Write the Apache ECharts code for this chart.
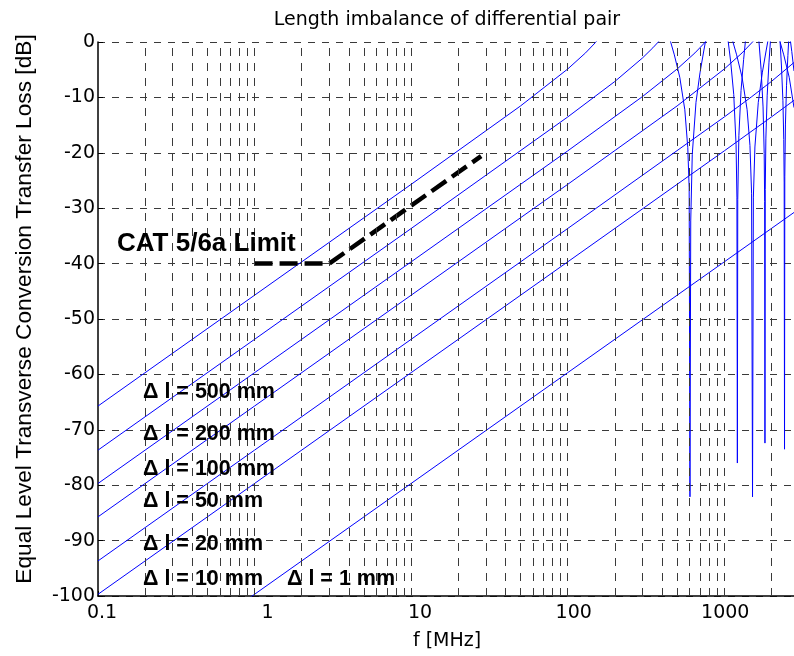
<!DOCTYPE html>
<html><head><meta charset="utf-8">
<script src="https://cdn.jsdelivr.net/npm/echarts@6/dist/echarts.min.js"></script>
<style>html,body{margin:0;padding:0;background:#fff}#c{width:794px;height:656px}</style>
</head><body><div id="c"></div>
<script>
// ---- data: [f in MHz, loss in dB] ----
const dl500 = [[0.1,-65.71],[1,-45.71],[10,-25.70],[50,-11.54],[100,-4.88],[130,-1.97],[150,-0.14],[160,0.76],[250,11.1],[303,30],[380,7.5],[440,1.34],
  [455,-0.03],[480,-2.32],[520,-6.37],[560,-12.23],[585,-19.09],[597,-26.32],[604,-82.1],[611,-32.3],[625,-20.27],[660,-10.89],[700,-5.57],[740,-1.62],[760,0.19],
  [800,3.9],[910,30],[1000,5.9],[1040,1.9],[1061,0],[1100,-3.60],[1150,-9.46],[1190,-18.57],[1205,-28.0],[1213,-76.0],[1220,-28.4],[1240,-16.92],[1280,-8.78],[1330,-3.14],[1364,0],[1390,2.33],
  [1516,30],[1640,2.5],[1667,0],[1720,-4.99],[1770,-11.72],[1800,-20.11],[1812,-28.8],[1820,-72.4],[1828,-26.6],[1845,-17.35],[1880,-9.71],[1930,-3.76],[1971,0],[2000,2.7],
  [2120,30],[2250,2.16],[2274,0],[2320,-4.33],[2370,-10.61],[2400,-17.59],[2415,-25.44],[2427,-73.5],[2437,-24.34],[2460,-14.81],[2500,-7.80],[2550,-2.46],[2577,0],[2620,4.0],[2790,9.6]];
const dl200 = [[0.1,-73.67],[1,-53.67],[10,-33.67],[100,-13.54],[200,-7.13],[300,-2.90],[350,-1.05],[379,0],[400,0.76],[600,9.3],[758,30],[950,7.5],[1100,1.34],
  [1137,0],[1200,-2.32],[1300,-6.37],[1400,-12.23],[1460,-18.68],[1495,-27.29],[1516,-82.1],[1535,-28.0],[1570,-18.95],[1650,-10.89],[1750,-5.57],[1850,-1.62],[1895,0],[1950,2.0],
  [2274,30],[2600,1.9],[2653,0],[2700,-1.71],[2790,-5.23]];
const dl100 = [[0.1,-79.69],[1,-59.69],[10,-39.69],[100,-19.66],[300,-9.86],[500,-4.88],[650,-1.97],[758,0],[800,0.76],[1000,4.6],[1516,30],[1900,7.5],[2200,1.34],
  [2274,0],[2400,-2.32],[2600,-6.37],[2790,-11.84]];
const dl50 = [[0.1,-85.71],[1,-65.71],[10,-45.71],[100,-25.70],[500,-11.54],[1000,-4.88],[1300,-1.97],[1516,0],[1600,0.76],[2000,4.6],[2790,18]];
const dl20 = [[0.1,-93.67],[1,-73.67],[10,-53.67],[100,-33.67],[1000,-13.54],[1500,-9.86],[2000,-7.13],[2790,-3.70]];
const dl10 = [[0.1,-99.69],[1,-79.69],[10,-59.69],[100,-39.69],[1000,-19.66],[2000,-13.54],[2790,-10.53]];
const dl1 = [[0.1,-119.69],[1,-99.69],[10,-79.69],[100,-59.69],[1000,-39.69],[2790,-30.77]];
const catLimit = [[1,-40],[3,-40],[28,-20.6]];
const curveLabels = ['Δ l = 500 mm','Δ l = 200 mm','Δ l = 100 mm','Δ l = 50 mm','Δ l = 20 mm','Δ l = 10 mm','Δ l = 1 mm'];
const xTickLabels = ['0.1','1','10','100','1000'];
const xGridValues = [0.2,0.3,0.4,0.5,0.6,0.7,0.8,0.9,1,2,3,4,5,6,7,8,9,10,20,30,40,50,60,70,80,90,100,200,300,400,500,600,700,800,900,1000,2000];
const xMin = 0.1, xMax = 2790, yMin = -100, yMax = 0, yStep = 10;

const chart = echarts.init(document.getElementById('c'), null, {renderer:'canvas'});
const blue = '#0000ff';
function curve(name, data){
  return {name, type:'line', data, showSymbol:false, symbol:'none', clip:true, z:3,
    lineStyle:{color:blue, width:1}, animation:false, silent:true};
}
// label shifts as seen in the reference rendering (px to the right of the tick)
const xLabelShift = [4, 13, 9, 6, 1];
const rich = {};
xTickLabels.forEach((t,i)=>{ rich['s'+i] = {fontFamily:'DejaVu Sans', fontSize:19, color:'#000', padding:[0,0,0,2*xLabelShift[i]]}; });

const labelPos = [[143,392],[143,434],[143,469],[143,501],[143,544],[143,579],[287,579]];
const graphics = [
  {type:'text', x:447, y:20, style:{text:'Length imbalance of differential pair', fontFamily:'DejaVu Sans', fontSize:19, fill:'#000', align:'center', verticalAlign:'middle'}},
  {type:'text', x:25, y:309, rotation:Math.PI/2, style:{text:'Equal Level Transverse Conversion Transfer Loss [dB]', fontFamily:'Liberation Sans', fontSize:22.7, fill:'#000', align:'center', verticalAlign:'middle'}},
  {type:'text', x:447, y:641, style:{text:'f [MHz]', fontFamily:'DejaVu Sans', fontSize:19, fill:'#000', align:'center', verticalAlign:'middle'}},
  {type:'text', x:117, y:244, z:100, style:{text:'CAT 5/6a Limit', fontFamily:'Liberation Sans', fontWeight:'bold', fontSize:26, fill:'#000', align:'left', verticalAlign:'middle'}}
];
curveLabels.forEach((t,i)=>{
  graphics.push({type:'text', x:labelPos[i][0], y:labelPos[i][1], z:100, style:{text:t, fontFamily:'Liberation Sans', fontWeight:'bold', fontSize:21.5, fill:'#000', align:'left', verticalAlign:'middle'}});
});

chart.setOption({
  animation:false,
  backgroundColor:'#fff',
  grid:{left:98, right:0, top:42, bottom:60, containLabel:false},
  xAxis:{type:'log', logBase:10, min:xMin, max:xMax,
    axisLine:{show:true, onZero:false, lineStyle:{color:'#000', width:1.5}},
    axisTick:{show:true, inside:true, length:5, lineStyle:{color:'#000'}},
    axisLabel:{show:true, margin:8, fontFamily:'DejaVu Sans', fontSize:19, color:'#000', showMaxLabel:false, rich,
      formatter:v=>{const s=String(+(+v).toPrecision(6)); const i=xTickLabels.indexOf(s); return i<0? s : '{s'+i+'|'+s+'}';}},
    splitLine:{show:false}},
  yAxis:{type:'value', min:yMin, max:yMax, interval:yStep,
    axisLine:{show:true, onZero:false, lineStyle:{color:'#000', width:1.5}},
    axisTick:{show:true, inside:true, length:5, lineStyle:{color:'#000'}},
    axisLabel:{margin:3, fontFamily:'DejaVu Sans', fontSize:19, color:'#000'},
    splitLine:{show:true, lineStyle:{color:'#3a3a3a', width:1, type:[7,7]}}},
  graphic:graphics,
  series:[
    {type:'line', data:[], z:1, silent:true, symbol:'none',
      markLine:{silent:true, symbol:['none','none'], label:{show:false}, animation:false,
        lineStyle:{color:'#3a3a3a', width:1, type:[8,7]},
        data:xGridValues.map(v=>({xAxis:v}))}},
    curve('500', dl500), curve('200', dl200), curve('100', dl100), curve('50', dl50),
    curve('20', dl20), curve('10', dl10), curve('1', dl1),
    {name:'CAT 5/6a Limit', type:'line', data:catLimit, showSymbol:false, symbol:'none', z:4, silent:true,
      lineStyle:{color:'#000', width:4.5, type:[18,7], cap:'butt'}}
  ]
});
</script></body></html>
